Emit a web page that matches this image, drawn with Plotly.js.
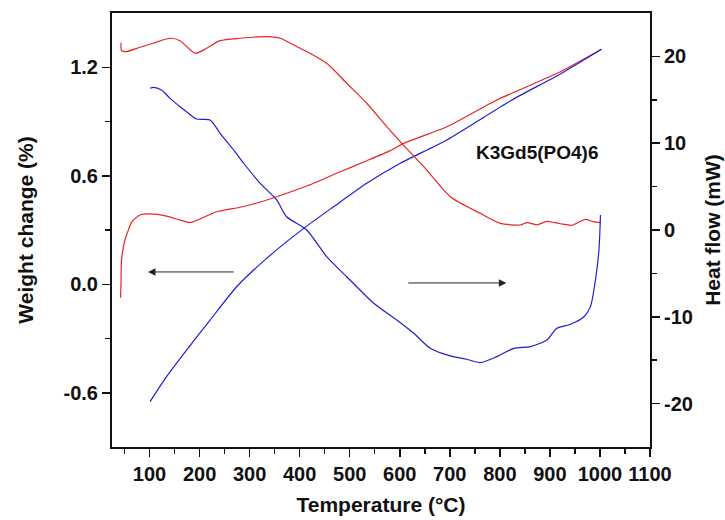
<!DOCTYPE html>
<html>
<head>
<meta charset="utf-8">
<script src="https://cdn.plot.ly/plotly-3.0.1.min.js"></script>
<style>html,body{margin:0;padding:0;background:#fff;}#chart{width:725px;height:520px;}</style>
</head>
<body>
<div id="chart"></div>
<script>
// ---- Data ----
// Rising red curve (left axis, weight change %)
const redRiseT = [42, 43, 44, 51, 65, 81, 101, 134, 161, 181, 201, 234, 281, 308, 354, 414, 481, 534, 581, 608, 694, 794, 921, 1003];
const redRiseV = [-0.075, 0.0, 0.134, 0.245, 0.346, 0.383, 0.389, 0.377, 0.355, 0.341, 0.361, 0.401, 0.426, 0.444, 0.484, 0.543, 0.622, 0.683, 0.739, 0.779, 0.871, 1.019, 1.175, 1.299];

// Rising blue curve (left axis, weight change %)
const blueRiseT = [101, 134, 174, 221, 274, 334, 408, 468, 534, 601, 694, 824, 921, 1003];
const blueRiseV = [-0.649, -0.511, -0.364, -0.198, -0.014, 0.143, 0.309, 0.429, 0.558, 0.669, 0.798, 1.019, 1.163, 1.299];

// Upper red curve (right axis, heat flow mW)
const redUpperT = [43, 44, 51, 81, 107, 141, 161, 191, 214, 241, 281, 334, 361, 388, 421, 454, 494, 534, 574, 604, 648, 701, 761, 801, 841, 854, 874, 894, 921, 944, 961, 971, 987, 1001];
const redUpperV = [21.58, 20.7, 20.54, 21.05, 21.51, 22.09, 21.81, 20.36, 20.93, 21.81, 22.09, 22.27, 22.09, 21.31, 20.36, 19.21, 16.91, 14.60, 11.90, 9.99, 7.29, 3.84, 1.92, 0.77, 0.58, 0.85, 0.60, 1.00, 0.72, 0.55, 1.00, 1.23, 0.96, 0.84];

// U-shaped blue curve (right axis, heat flow mW)
const blueUT = [101, 108, 124, 141, 161, 174, 194, 221, 241, 268, 288, 321, 354, 374, 414, 454, 494, 548, 594, 628, 661, 701, 734, 761, 794, 828, 861, 894, 914, 941, 968, 981, 991, 998, 1000, 1001];
const blueUV = [16.33, 16.44, 16.13, 15.17, 14.21, 13.63, 12.79, 12.67, 11.14, 9.22, 7.69, 5.38, 3.46, 1.53, 0.00, -3.07, -5.38, -8.44, -10.37, -11.90, -13.63, -14.51, -14.89, -15.28, -14.59, -13.63, -13.44, -12.67, -11.32, -10.86, -9.99, -8.83, -5.76, -2.30, 0.00, 1.73];

// Tick values
const xTicks = [100, 200, 300, 400, 500, 600, 700, 800, 900, 1000, 1100];
const yLeftTicks = [-0.6, 0.0, 0.6, 1.2];
const yRightTicks = [-20, -10, 0, 10, 20];

// Text
const sampleLabel = 'K3Gd5(PO4)6';
const xTitle = 'Temperature (°C)';
const yLeftTitle = 'Weight change (%)';
const yRightTitle = 'Heat flow (mW)';

// Arrow annotation anchors: [head T, tail T, level]
const leftArrow = [97, 271, 0.068];
const rightArrow = [813, 614, -6.1];
const labelPos = [875, 8.9];

const RED = 'rgb(232,36,36)';
const BLUE = 'rgb(30,30,210)';
const FONT = 'Liberation Sans, Arial, Helvetica, sans-serif';

const traces = [
  {x: redRiseT, y: redRiseV, type: 'scatter', mode: 'lines', yaxis: 'y',
   line: {color: RED, width: 1.2, shape: 'spline', smoothing: 0.6}},
  {x: blueRiseT, y: blueRiseV, type: 'scatter', mode: 'lines', yaxis: 'y',
   line: {color: BLUE, width: 1.2, shape: 'spline', smoothing: 0.6}},
  {x: redUpperT, y: redUpperV, type: 'scatter', mode: 'lines', yaxis: 'y2',
   line: {color: RED, width: 1.2, shape: 'spline', smoothing: 0.7}},
  {x: blueUT, y: blueUV, type: 'scatter', mode: 'lines', yaxis: 'y2',
   line: {color: BLUE, width: 1.2, shape: 'spline', smoothing: 0.7}}
];

const tickFont = {family: FONT, size: 20, color: '#111', weight: 'bold'};
const titleFont = {family: FONT, size: 21, color: '#111', weight: 'bold'};

const layout = {
  width: 725, height: 520,
  margin: {l: 112, r: 75, t: 13, b: 73, pad: 0},
  paper_bgcolor: '#fff', plot_bgcolor: '#fff',
  showlegend: false,
  xaxis: {
    range: [25, 1100], tickvals: xTicks, ticktext: xTicks.map(String),
    ticks: 'outside', ticklen: 8, tickwidth: 1.5, tickcolor: '#111',
    minor: {dtick: 50, tick0: 0, ticks: 'outside', ticklen: 5, tickwidth: 1.5, tickcolor: '#111', showgrid: false},
    showline: true, linewidth: 2, linecolor: '#111', mirror: true,
    showgrid: false, zeroline: false,
    tickfont: tickFont,
    title: {text: xTitle, font: titleFont, standoff: 13}
  },
  yaxis: {
    range: [-0.9, 1.5], tickvals: yLeftTicks, ticktext: yLeftTicks.map(v => v.toFixed(1)),
    ticks: 'outside', ticklen: 8, tickwidth: 1.5, tickcolor: '#111',
    minor: {tickvals: [-0.3, 0.3, 0.9], ticks: 'outside', ticklen: 5, tickwidth: 1.5, tickcolor: '#111', showgrid: false},
    showline: true, linewidth: 2, linecolor: '#111',
    showgrid: false, zeroline: false,
    tickfont: tickFont,
    title: {text: yLeftTitle, font: titleFont, standoff: 24}
  },
  yaxis2: {
    overlaying: 'y', side: 'right',
    range: [-25, 25], tickvals: yRightTicks, ticktext: yRightTicks.map(String),
    ticks: 'outside', ticklen: 8, tickwidth: 1.5, tickcolor: '#111',
    minor: {tickvals: [-15, -5, 5, 15], ticks: 'outside', ticklen: 5, tickwidth: 1.5, tickcolor: '#111', showgrid: false},
    showline: true, linewidth: 2, linecolor: '#111',
    showgrid: false, zeroline: false,
    tickfont: tickFont,
    title: {text: yRightTitle, font: titleFont, standoff: 13}
  },
  annotations: [
    {x: leftArrow[0], y: leftArrow[2], xref: 'x', yref: 'y',
     ax: leftArrow[1], ay: leftArrow[2], axref: 'x', ayref: 'y',
     showarrow: true, arrowhead: 2, arrowsize: 1.5, arrowwidth: 1, arrowcolor: '#222', text: ''},
    {x: rightArrow[0], y: rightArrow[2], xref: 'x', yref: 'y2',
     ax: rightArrow[1], ay: rightArrow[2], axref: 'x', ayref: 'y2',
     showarrow: true, arrowhead: 2, arrowsize: 1.5, arrowwidth: 1, arrowcolor: '#222', text: ''},
    {x: labelPos[0], y: labelPos[1], xref: 'x', yref: 'y2', showarrow: false,
     text: sampleLabel, font: {family: FONT, size: 19, color: '#111', weight: 'bold'}}
  ]
};

Plotly.newPlot('chart', traces, layout, {staticPlot: true, displayModeBar: false});
</script>
</body>
</html>
